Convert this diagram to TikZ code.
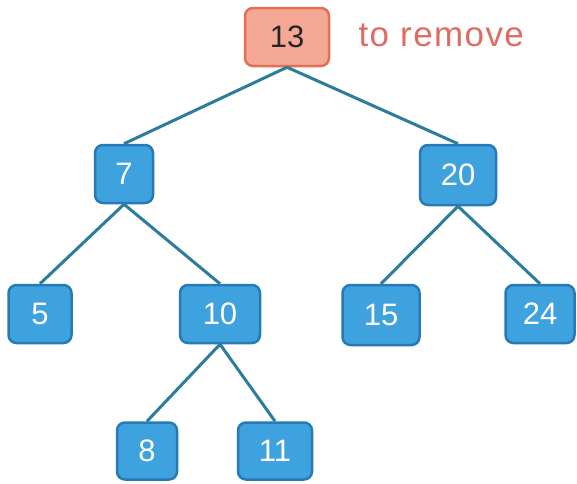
\documentclass[tikz,border=0pt]{standalone}
\usepackage{fontspec}
\setmainfont{Liberation Sans}
\definecolor{bfill}{RGB}{62,162,222}
\definecolor{bdraw}{RGB}{40,122,182}
\definecolor{efill}{RGB}{245,168,148}
\definecolor{edraw}{RGB}{226,112,82}
\definecolor{edgec}{RGB}{44,124,156}
\definecolor{remc}{RGB}{222,108,100}
\begin{document}
\begin{tikzpicture}[x=1pt,y=-1pt,
  bnode/.style={draw=bdraw,fill=bfill,line width=2.5pt,rounded corners=8pt,inner sep=0pt,
    text=white,font=\fontsize{31}{32}\selectfont,minimum height=58pt},
  rnode/.style={draw=edraw,fill=efill,line width=2.5pt,rounded corners=8pt,inner sep=0pt,
    text=black!85,font=\fontsize{31}{32}\selectfont,minimum height=58pt},
  link/.style={draw=edgec,line width=3pt}]
\useasboundingbox (0,0) rectangle (577,483);
\node[rnode,minimum width=84pt] (n13) at (287,37) {13};
\node[anchor=west,text=remc,font=\fontsize{35}{36}\selectfont\addfontfeature{LetterSpace=4}] (lbl) at (355,35) {to remove};
\node[bnode,minimum width=58pt] (n7) at (124,174) {7};
\node[bnode,minimum width=76pt,minimum height=60pt] (n20) at (458,175) {20};
\node[bnode,minimum width=63pt] (n5) at (40,314) {5};
\node[bnode,minimum width=80pt] (n10) at (220,314) {10};
\node[bnode,minimum width=77pt,minimum height=60pt] (n15) at (381,315) {15};
\node[bnode,minimum width=69pt] (n24) at (540,314) {24};
\node[bnode,minimum width=60pt,minimum height=57pt] (n8) at (147,451) {8};
\node[bnode,minimum width=74pt,minimum height=57pt] (n11) at (275,451) {11};
\draw[link] (n13.south) -- (n7.north);
\draw[link] (n13.south) -- (n20.north);
\draw[link] (n7.south) -- (n5.north);
\draw[link] (n7.south) -- (n10.north);
\draw[link] (n20.south) -- (n15.north);
\draw[link] (n20.south) -- (n24.north);
\draw[link] (n10.south) -- (n8.north);
\draw[link] (n10.south) -- (n11.north);
\end{tikzpicture}
\end{document}
